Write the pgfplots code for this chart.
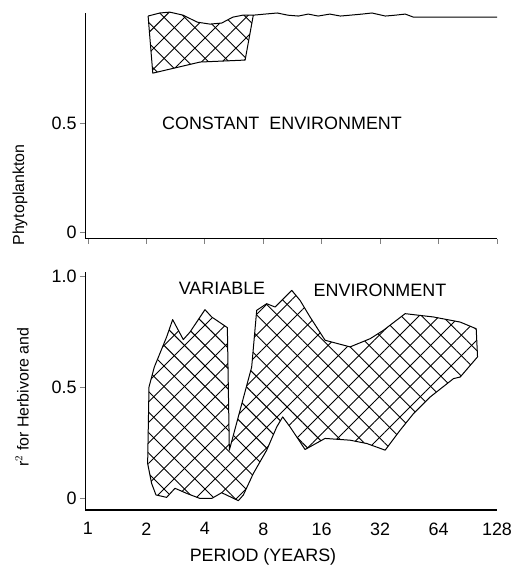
\documentclass[border=0pt]{standalone}
\usepackage{fontspec}
\setmainfont{Liberation Sans}
\usepackage{pgfplots}
\pgfplotsset{compat=1.18}
\usetikzlibrary{patterns.meta}
\tikzset{
  hatchA/.style={pattern={Lines[angle=45,distance=14.5bp,line width=0.9bp]}},
  hatchB/.style={pattern={Lines[angle=-45,distance=14.5bp,line width=0.9bp]}},
}
\begin{document}
\begin{tikzpicture}
\useasboundingbox (-85bp,-61bp) rectangle (435bp,510bp);
% ---------- bottom panel: variable environment ----------
\begin{axis}[at={(0,0)}, anchor=south west, scale only axis,
  width=412bp, height=238bp,
  xmin=-0.05, xmax=7, ymin=-0.054, ymax=1.02,
  axis x line=bottom, axis y line=left,
  x axis line style={-, line width=1.8bp},
  y axis line style={-, line width=1bp},
  xtick={0,1,2,3,4,5,6,7}, xticklabels={1,2,4,8,16,32,64,128},
  major x tick style={draw=none},
  xticklabel style={yshift=-4bp},
  ytick={0,0.5,1}, yticklabels={0,0.5,1.0},
  tick align=outside, major tick length=5bp,
  tick label style={font=\fontsize{18}{20}\selectfont},
  clip=false]
\addplot[draw=none, hatchA] coordinates {
(1.045,0.501) (1.136,0.591) (1.347,0.727) (1.450,0.805) (1.632,0.715) (1.747,0.749)
(2.003,0.850) (2.118,0.817) (2.386,0.769) (2.420,0.216) (2.802,0.591) (2.888,0.847)
(3.059,0.877) (3.202,0.862) (3.316,0.892) (3.488,0.937) (3.630,0.892) (3.801,0.817)
(4.058,0.712) (4.486,0.682) (4.829,0.719) (5.057,0.757) (5.428,0.832) (5.913,0.817)
(6.370,0.794) (6.644,0.764) (6.667,0.637) (6.370,0.546) (6.256,0.539) (5.856,0.456)
(5.571,0.381) (5.342,0.306) (5.086,0.216) (4.772,0.246) (4.486,0.261) (4.058,0.269)
(3.716,0.219) (3.459,0.321) (3.333,0.366) (3.231,0.321) (3.059,0.216) (2.831,0.111)
(2.660,0.014) (2.574,-0.012) (2.432,0.006) (2.289,0.024) (2.118,-0.002) (1.918,-0.002)
(1.690,0.021) (1.490,0.044) (1.347,0.003) (1.164,0.014) (1.090,0.066) (1.022,0.156)
(1.045,0.501)};
\addplot[draw=black, line width=1bp, line join=round, hatchB] coordinates {
(1.045,0.501) (1.136,0.591) (1.347,0.727) (1.450,0.805) (1.632,0.715) (1.747,0.749)
(2.003,0.850) (2.118,0.817) (2.386,0.769) (2.420,0.216) (2.802,0.591) (2.888,0.847)
(3.059,0.877) (3.202,0.862) (3.316,0.892) (3.488,0.937) (3.630,0.892) (3.801,0.817)
(4.058,0.712) (4.486,0.682) (4.829,0.719) (5.057,0.757) (5.428,0.832) (5.913,0.817)
(6.370,0.794) (6.644,0.764) (6.667,0.637) (6.370,0.546) (6.256,0.539) (5.856,0.456)
(5.571,0.381) (5.342,0.306) (5.086,0.216) (4.772,0.246) (4.486,0.261) (4.058,0.269)
(3.716,0.219) (3.459,0.321) (3.333,0.366) (3.231,0.321) (3.059,0.216) (2.831,0.111)
(2.660,0.014) (2.574,-0.012) (2.432,0.006) (2.289,0.024) (2.118,-0.002) (1.918,-0.002)
(1.690,0.021) (1.490,0.044) (1.347,0.003) (1.164,0.014) (1.090,0.066) (1.022,0.156)
(1.045,0.501)};
\end{axis}
% ---------- top panel: constant environment ----------
\begin{axis}[at={(0,271bp)}, anchor=south west, scale only axis,
  width=412bp, height=226bp,
  xmin=-0.05, xmax=7, ymin=-0.032, ymax=1.005,
  axis x line=bottom, axis y line=left,
  axis line style={-, line width=1bp},
  xtick={0,1,2,3,4,5,6,7}, xticklabels={},
  ytick={0,0.5}, yticklabels={0,0.5},
  tick align=outside, major tick length=5bp,
  tick style={line width=0.8bp},
  tick label style={font=\fontsize{18}{20}\selectfont},
  clip=false]
\addplot[draw=none, hatchA] coordinates {
(1.03,0.991) (1.23,1.005) (1.40,1.009) (1.63,0.995) (1.87,0.963) (2.09,0.954) (2.29,0.959)
(2.48,0.986) (2.65,0.995) (2.83,0.995) (2.69,0.789) (1.92,0.780) (1.11,0.729) (1.03,0.991)};
\addplot[draw=black, line width=1bp, line join=round, hatchB] coordinates {
(1.03,0.991) (1.23,1.005) (1.40,1.009) (1.63,0.995) (1.87,0.963) (2.09,0.954) (2.29,0.959)
(2.48,0.986) (2.65,0.995) (2.83,0.995) (2.69,0.789) (1.92,0.780) (1.11,0.729) (1.03,0.991)};
\addplot[draw=black, line width=1bp] coordinates {
(2.83,0.995) (3.03,1.000) (3.24,1.005) (3.42,0.995) (3.60,0.991) (3.77,1.000) (3.94,0.991)
(4.14,1.000) (4.32,0.991) (4.49,0.995) (4.69,1.000) (4.86,1.005) (5.09,0.991) (5.26,0.995)
(5.43,1.000) (5.57,0.986) (7.00,0.986)};
\end{axis}
% ---------- texts ----------
\node[font=\fontsize{18}{20}\selectfont] at (197bp,387bp) {CONSTANT\ \ ENVIRONMENT};
\node[font=\fontsize{18}{20}\selectfont] at (137bp,222bp) {VARIABLE};
\node[font=\fontsize{18}{20}\selectfont] at (295bp,220bp) {ENVIRONMENT};
\node[font=\fontsize{18}{20}\selectfont] at (178bp,-47bp) {PERIOD (YEARS)};
\node[font=\fontsize{16}{18}\selectfont, rotate=90] at (-65bp,315bp) {Phytoplankton};
\node[font=\fontsize{16}{18}\selectfont, rotate=90, anchor=west] at (-63bp,40bp) {r$^{2}$ for Herbivore and};
\end{tikzpicture}
\end{document}
